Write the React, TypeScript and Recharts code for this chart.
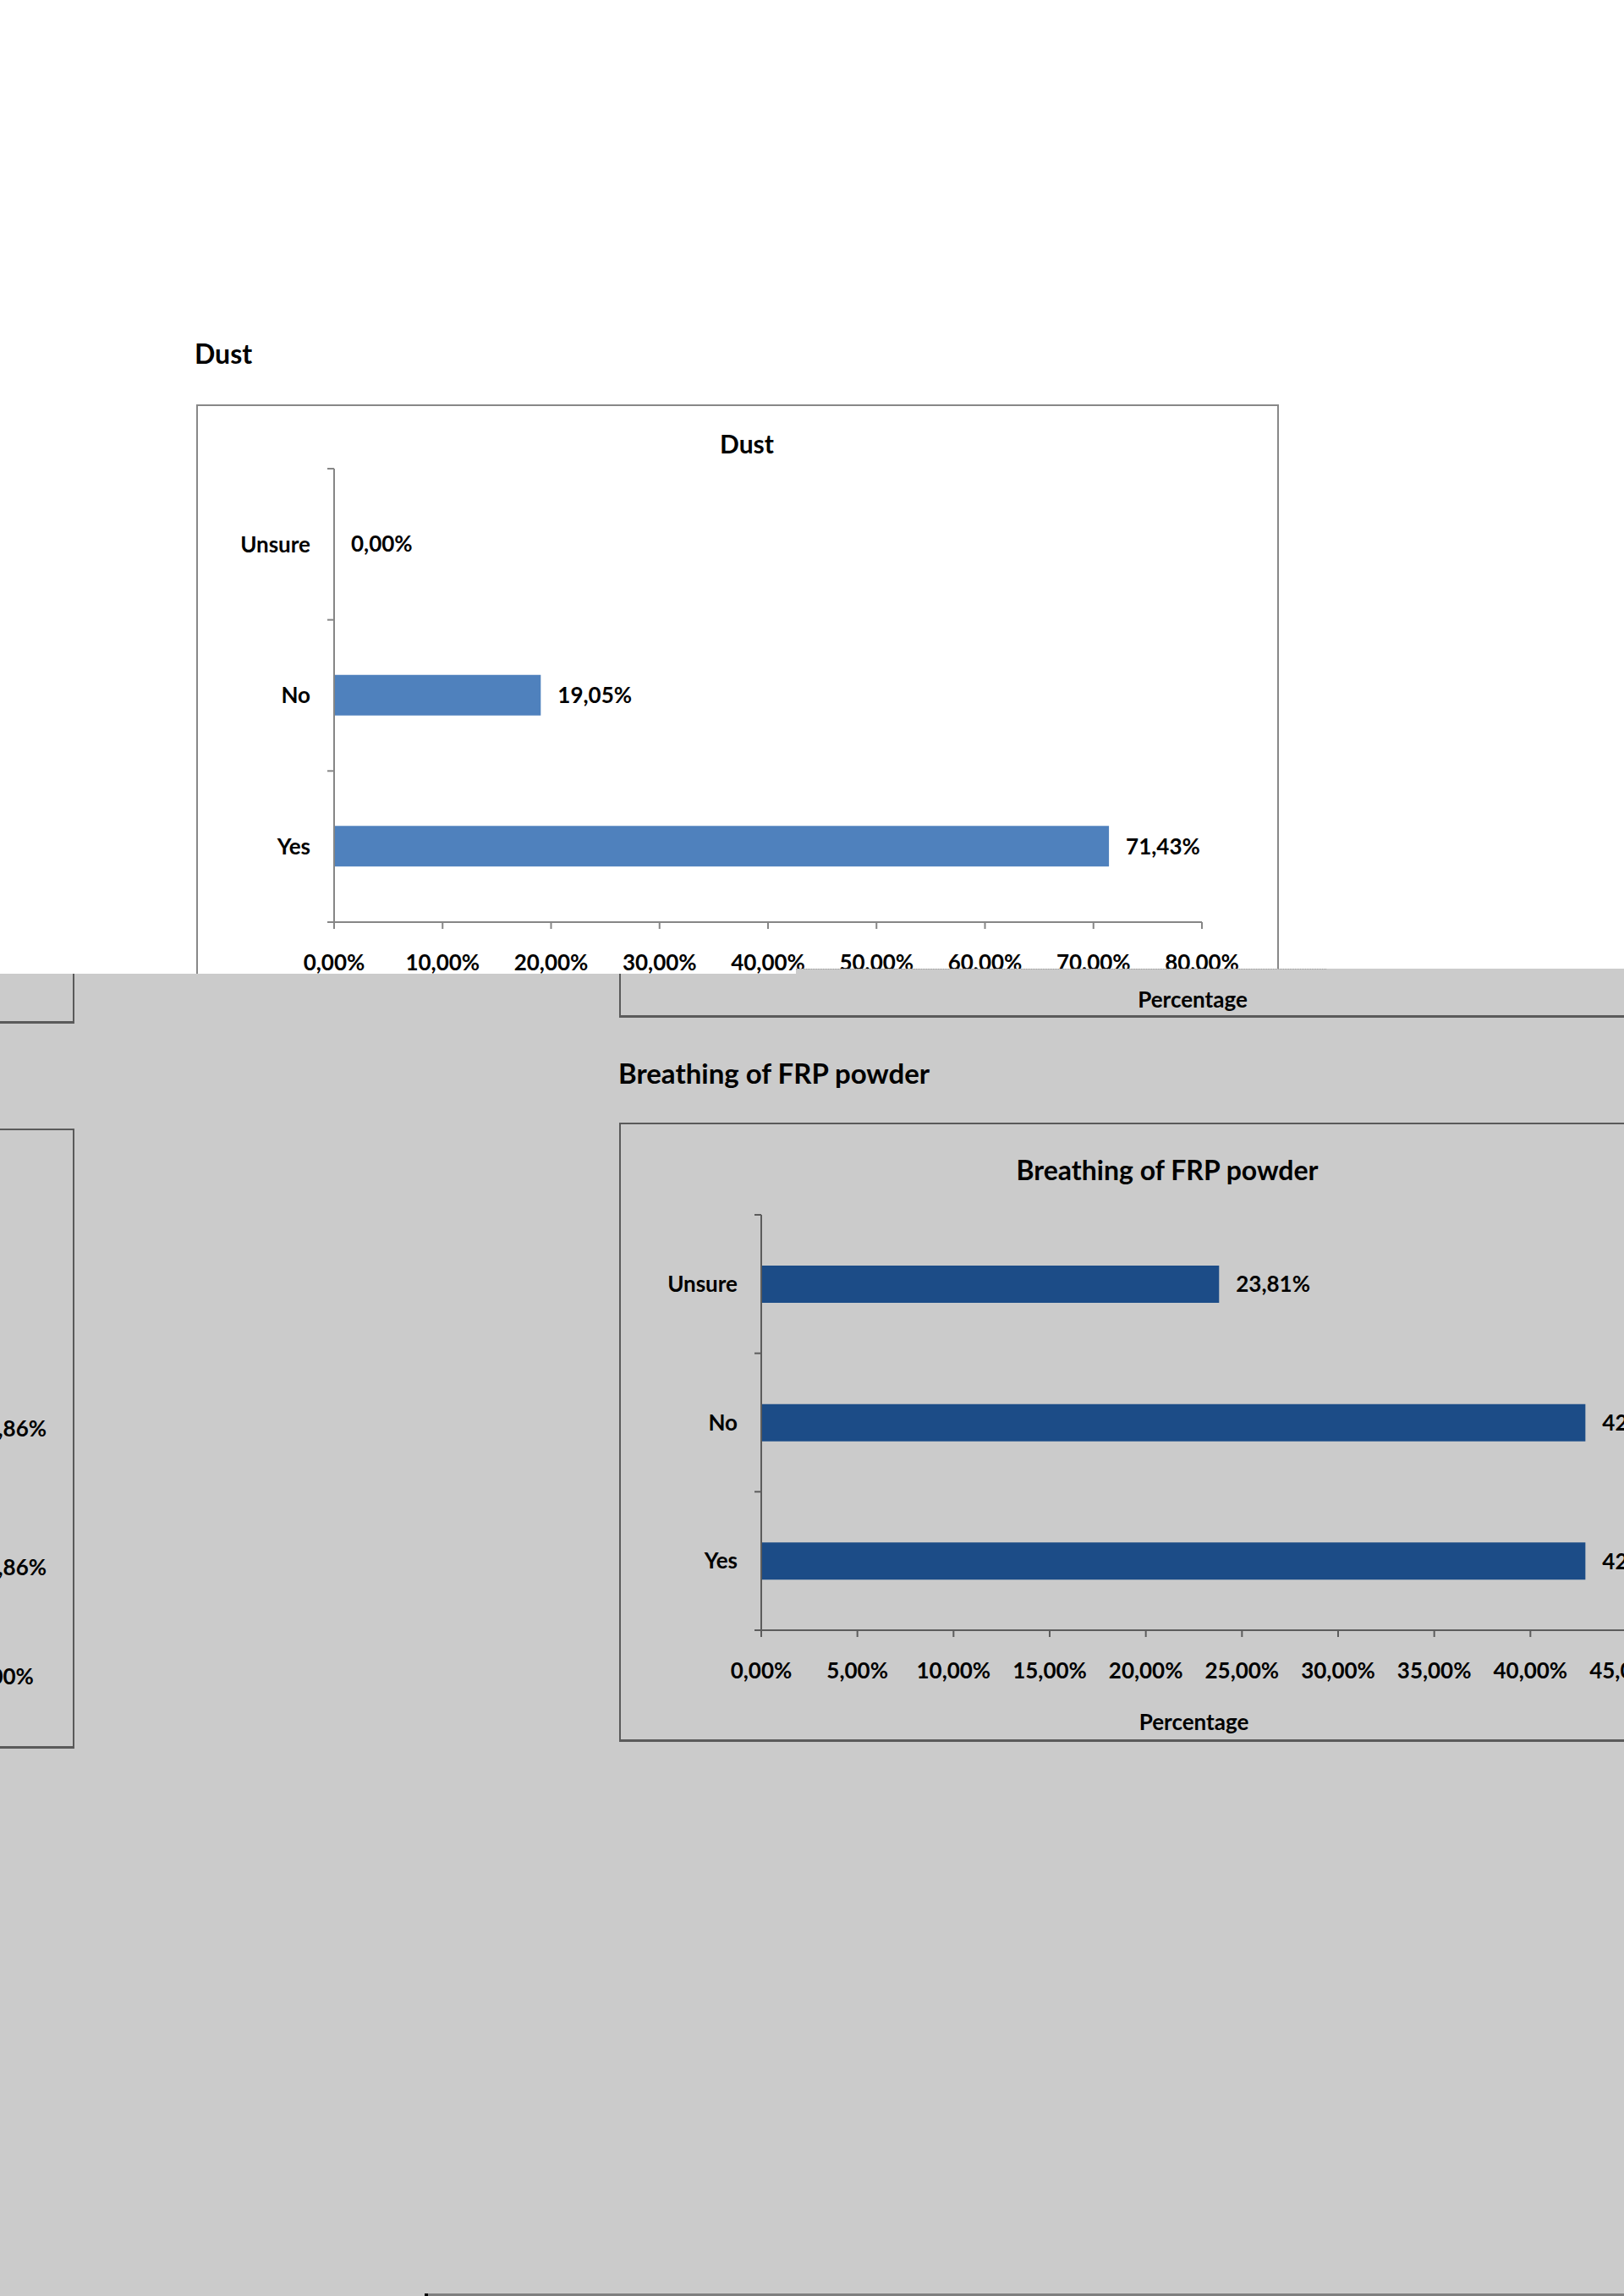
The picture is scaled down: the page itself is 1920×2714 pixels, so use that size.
import { Bar, BarChart, LabelList, XAxis, YAxis } from "recharts";

const FONT = "Lato, 'Open Sans', sans-serif";

const CATEGORIES = ["Unsure", "No", "Yes"];
const DUST_VALUES = [0, 19.05, 71.43];
const DUST_TICKS = [0, 10, 20, 30, 40, 50, 60, 70, 80];
const FRP_VALUES = [23.81, 42.86, 42.86];
const FRP_TICKS = [0, 5, 10, 15, 20, 25, 30, 35, 40, 45];
// chart in the left column of the grey window, only its right edge is on screen
const SIDE_VALUES = [14.29, 42.86, 42.86];
const SIDE_TICKS = [0, 5, 10, 15, 20, 25, 30, 35, 40, 45];

const GRAY_TOP = 1145;
const LABEL_SIZE = 26;

type Row = { category: string; value: number };

const toRows = (values: number[]): Row[] =>
  CATEGORIES.map((category, i) => ({ category, value: values[i] }));

const pct = (v: number) => `${Number(v).toFixed(2).replace(".", ",")}%`;

const Y_AXIS_W = 163;
const TOP_PAD = 10;
const RIGHT_PAD = 110;
const X_AXIS_H = 130;

function CategoryTick(props: any) {
  const { x, y, payload, index, band, count, color } = props;
  return (
    <g>
      <text
        x={x - 28}
        y={y}
        dy="0.355em"
        textAnchor="end"
        fill="#000"
        fontSize={LABEL_SIZE}
        fontWeight={700}
        fontFamily={FONT}
      >
        {payload.value}
      </text>
      <line x1={x - 8} x2={x} y1={y - band / 2} y2={y - band / 2} stroke={color} strokeWidth={2} />
      {index === count - 1 && (
        <line x1={x - 8} x2={x} y1={y + band / 2} y2={y + band / 2} stroke={color} strokeWidth={2} />
      )}
    </g>
  );
}

function HBar({
  values,
  ticks,
  fill,
  axisColor,
  plotLeft,
  plotTop,
  plotWidth,
  plotHeight,
  barSize,
  originY = 0,
  axisTitle,
}: {
  values: number[];
  ticks: number[];
  fill: string;
  axisColor: string;
  plotLeft: number;
  plotTop: number;
  plotWidth: number;
  plotHeight: number;
  barSize: number;
  originY?: number;
  axisTitle?: string;
}) {
  const rows = toRows(values);
  const band = plotHeight / rows.length;
  const width = Y_AXIS_W + plotWidth + RIGHT_PAD;
  const height = TOP_PAD + plotHeight + X_AXIS_H;
  const textStyle = {
    fill: "#000",
    fontSize: LABEL_SIZE,
    fontWeight: 700,
    fontFamily: FONT,
  };
  return (
    <div
      style={{
        position: "absolute",
        left: plotLeft - Y_AXIS_W,
        top: plotTop - TOP_PAD - originY,
      }}
    >
      <BarChart
        layout="vertical"
        width={width}
        height={height}
        data={rows}
        margin={{ top: TOP_PAD, right: RIGHT_PAD, bottom: 0, left: 0 }}
      >
        <XAxis
          type="number"
          domain={[0, ticks[ticks.length - 1]]}
          ticks={ticks}
          interval={0}
          tickFormatter={pct}
          height={X_AXIS_H}
          tickSize={8}
          tickMargin={31}
          axisLine={{ stroke: axisColor, strokeWidth: 2 }}
          tickLine={{ stroke: axisColor, strokeWidth: 2 }}
          tick={textStyle}
          label={
            axisTitle
              ? { value: axisTitle, position: "insideBottom", offset: 12, ...textStyle }
              : undefined
          }
        />
        <YAxis
          type="category"
          dataKey="category"
          width={Y_AXIS_W}
          interval={0}
          tickSize={0}
          tickMargin={0}
          tickLine={false}
          axisLine={{ stroke: axisColor, strokeWidth: 2 }}
          tick={(p: any) => (
            <CategoryTick {...p} band={band} count={rows.length} color={axisColor} />
          )}
        />
        <Bar
          dataKey="value"
          fill={fill}
          barSize={barSize}
          minPointSize={0.01}
          isAnimationActive={false}
        >
          <LabelList
            dataKey="value"
            position="right"
            offset={20}
            formatter={(v: any) => pct(Number(v))}
            fill="#000"
            fontSize={LABEL_SIZE}
            fontWeight={700}
            fontFamily={FONT}
          />
        </Bar>
      </BarChart>
    </div>
  );
}

function Caption({
  text,
  x,
  y,
  size,
  center = false,
}: {
  text: string;
  x: number;
  y: number;
  size: number;
  center?: boolean;
}) {
  return (
    <div
      style={{
        position: "absolute",
        left: center ? x - 500 : x,
        top: y - 0.527 * size,
        width: center ? 1000 : undefined,
        textAlign: center ? "center" : "left",
        fontFamily: FONT,
        fontWeight: 700,
        fontSize: size,
        lineHeight: `${size}px`,
        whiteSpace: "nowrap",
        color: "#000",
      }}
    >
      {text}
    </div>
  );
}

export default function App() {
  const g = GRAY_TOP;
  return (
    <div
      style={{
        position: "absolute",
        left: 0,
        top: 0,
        width: 1920,
        height: 2714,
        overflow: "hidden",
        background: "#fff",
      }}
    >
      {/* white page: Dust */}
      <Caption text="Dust" x={230} y={419} size={32} />
      <div
        style={{
          position: "absolute",
          left: 232,
          top: 478,
          width: 1280,
          height: 760,
          boxSizing: "border-box",
          border: "2px solid #888",
        }}
      />
      <Caption text="Dust" x={883} y={525} size={30} center />
      <HBar
        values={DUST_VALUES}
        ticks={DUST_TICKS}
        fill="#4f81bd"
        axisColor="#868686"
        plotLeft={395}
        plotTop={554}
        plotWidth={1026}
        plotHeight={536}
        barSize={48}
      />

      {/* grey window on top */}
      <div
        style={{
          position: "absolute",
          left: 0,
          top: g,
          width: 1920,
          height: 2714 - g,
          overflow: "hidden",
          background: "#cbcbcb",
          clipPath: "polygon(0 6px, 941px 6px, 941px 0, 100% 0, 100% 100%, 0 100%)",
        }}
      >
        <div
          style={{
            position: "absolute",
            left: 941,
            top: 0,
            width: 627,
            borderTop: "1px dotted #9a9a9a",
          }}
        />
        {/* left column boxes */}
        <div
          style={{
            position: "absolute",
            left: -20,
            top: -40,
            width: 108,
            height: 105,
            boxSizing: "border-box",
            border: "2px solid #5a5a5a",
            borderBottomWidth: 3,
          }}
        />
        <div
          style={{
            position: "absolute",
            left: -1100,
            top: 1334 - g,
            width: 1188,
            height: 733,
            boxSizing: "border-box",
            border: "2px solid #5a5a5a",
            borderBottomWidth: 3,
          }}
        />
        <HBar
          values={SIDE_VALUES}
          ticks={SIDE_TICKS}
          fill="#1c4c87"
          axisColor="#5c5c5c"
          plotLeft={-1027}
          plotTop={1443}
          plotWidth={1023}
          plotHeight={491}
          barSize={44}
          originY={g}
        />

        {/* right column: bottom of the previous chart */}
        <div
          style={{
            position: "absolute",
            left: 732,
            top: -40,
            width: 1400,
            height: 1203 - g + 40,
            boxSizing: "border-box",
            border: "2px solid #5a5a5a",
            borderBottomWidth: 3,
          }}
        />
        <Caption text="Percentage" x={1410} y={1182 - g} size={LABEL_SIZE} center />

        {/* Breathing of FRP powder */}
        <Caption text="Breathing of FRP powder" x={731} y={1269 - g} size={33} />
        <div
          style={{
            position: "absolute",
            left: 732,
            top: 1327 - g,
            width: 1400,
            height: 2059 - 1327,
            boxSizing: "border-box",
            border: "2px solid #5a5a5a",
            borderBottomWidth: 3,
          }}
        />
        <Caption text="Breathing of FRP powder" x={1380} y={1384 - g} size={32} center />
        <HBar
          values={FRP_VALUES}
          ticks={FRP_TICKS}
          fill="#1c4c87"
          axisColor="#5c5c5c"
          plotLeft={900}
          plotTop={1436}
          plotWidth={1023}
          plotHeight={491}
          barSize={44}
          originY={g}
          axisTitle="Percentage"
        />

        {/* top edge of the next box */}
        <div
          style={{
            position: "absolute",
            left: 502,
            top: 2711 - g,
            width: 1420,
            height: 4,
            background: "#7f7f7f",
            borderLeft: "4px solid #000",
            boxSizing: "border-box",
          }}
        />
      </div>
    </div>
  );
}
